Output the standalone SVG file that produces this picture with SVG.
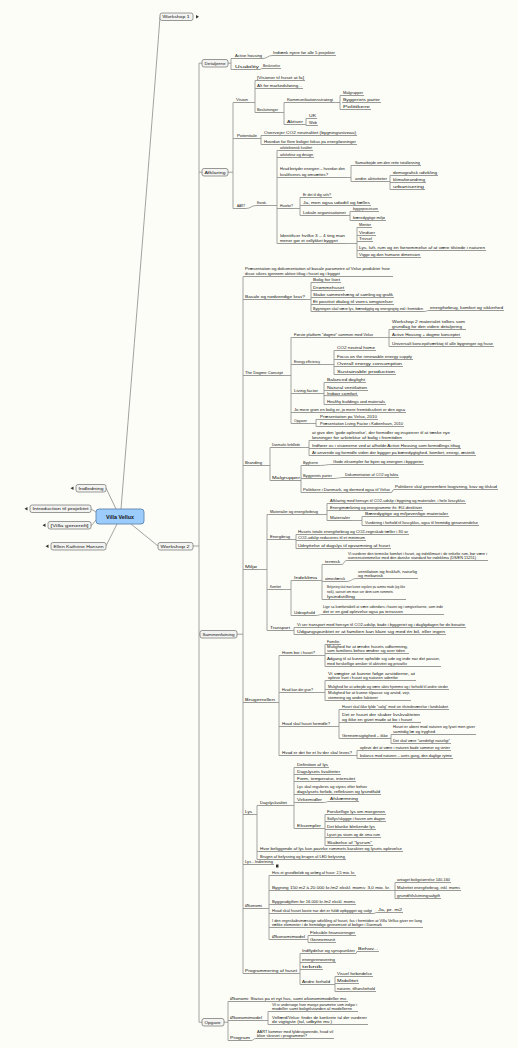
<svg xmlns="http://www.w3.org/2000/svg" width="518" height="1048" viewBox="0 0 518 1048">
<style>
.t{font-family:"Liberation Sans",Arial,sans-serif;font-size:3.9px;fill:#151515}
.bt{font-family:"Liberation Sans",Arial,sans-serif;font-size:4.3px;fill:#151515}
.u{stroke:#808080;stroke-width:0.8;fill:none}
.c{stroke:#8a8a8a;stroke-width:0.8;fill:none;stroke-linejoin:round}
.b{fill:#f3f3f1;stroke:#7e7e7e;stroke-width:0.8}
.m{fill:#333}
</style>
<rect width="518" height="1048" fill="#fdfdf7"/>
<g id="connectors" class="c">
<path d="M121,509 Q150,150 160,17"/>
<path d="M116,509 L106,488"/>
<path d="M96,512 L91,509"/>
<path d="M96,520 L91,526"/>
<path d="M117,524 L106,546"/>
<path d="M131,524 L158,546"/>
<path d="M193,546 H199 M199,63.2 V1022.2 M199,63.2 H202 M199,172.2 H202 M199,634.2 H200 M199,1022.2 H202"/>
<path d="M228,63.2 H231 M231,58.5 V69.5 M231,58.5 H234 M231,69.5 H234"/>
<path d="M263,58.5 C267,58.5 268,55.5 272,55.5"/>
<path d="M260,69.5 L262,68.5"/>
<path d="M228,172.2 H233 M233,102.5 V208.5 M233,102.5 H235 M233,138.5 H236 M233,208.5 H236"/>
<path d="M249,102.5 H255 M255,80.5 V112.5 M255,80.5 H256 M255,88.5 H256 M255,112.5 H256"/>
<path d="M279,112.5 H284 M284,102.5 V124.5 M284,102.5 H286 M284,124.5 H286"/>
<path d="M334,102.5 H340 M340,95.5 V109.5 M340,95.5 H342 M340,109.5 H342"/>
<path d="M304,124.5 H306 M306,118.5 V125.5 M306,118.5 H308 M306,125.5 H308"/>
<path d="M258,138.5 H261 M261,135.5 V144.5 M261,135.5 H263 M261,144.5 H263"/>
<path d="M246,208.5 C251,208.5 251,205.5 256,205.5"/>
<path d="M267,205.5 H277 M277,150.5 V243.5 M277,150.5 H279 M277,157.5 H279 M277,177.5 H279 M277,208.5 H279 M277,243.5 H279"/>
<path d="M346,177.5 H351 M351,165.5 V181.5 M351,165.5 H354 M351,181.5 H354"/>
<path d="M388,181.5 H390 M390,175.5 V189.5 M390,175.5 H392 M390,182.5 H392 M390,189.5 H392"/>
<path d="M294,208.5 H300 M300,197.5 V215.5 M300,197.5 H302 M300,205.5 H302 M300,215.5 H302"/>
<path d="M347,215.5 H350 M350,211.5 V220.5 M350,211.5 H352 M350,220.5 H352"/>
<path d="M346,243.5 H357 M357,227.5 V257.5 M357,227.5 H358 M357,235.5 H358 M357,241.5 H358 M357,250.5 H358 M357,257.5 H358"/>
<path d="M237,634.2 H243 M243,276.5 V973.5 M243,276.5 H244 M243,299.5 H244 M243,375.5 H244 M243,465.5 H244 M243,569.5 H244 M243,702.5 H244 M243,814.5 H244 M243,864.5 H244 M243,908.5 H244 M243,973.5 H244"/>
<path d="M306,299.5 H311 M311,282.5 V311.5 M311,282.5 H312 M311,290.5 H312 M311,297.5 H312 M311,304.5 H312 M311,311.5 H312"/>
<path d="M424,311.5 C427,311.5 426,310.5 429,310.5"/>
<path d="M284,375.5 H291 M291,337.5 V423.5 M291,337.5 H293 M291,364.5 H293 M291,393.5 H293 M291,412.5 H293 M291,423.5 H293"/>
<path d="M374,337.5 H389 M389,329.5 V346.5 M389,329.5 H391 M389,337.5 H391 M389,346.5 H391"/>
<path d="M321,364.5 H334 M334,350.5 V374.5 M334,350.5 H336 M334,359.5 H336 M334,366.5 H336 M334,374.5 H336"/>
<path d="M319,393.5 H324 M324,382.5 V404.5 M324,382.5 H326 M324,390.5 H326 M324,395.5 H326 M324,404.5 H326"/>
<path d="M308,423.5 H316 M316,419.5 V426.5 M316,419.5 H319 M316,426.5 H319"/>
<path d="M263,465.5 H270 M270,447.5 V480.5 M270,447.5 H271 M270,480.5 H271"/>
<path d="M301,447.5 H309 M309,440.5 V455.5 M309,440.5 H311 M309,448.5 H311 M309,455.5 H311"/>
<path d="M301,465.5 V492.5 M301,465.5 H302 M301,478.5 H302 M301,492.5 H302"/>
<path d="M319,465.5 C326,465.5 325,464.5 332,464.5"/>
<path d="M333,478.5 C339,478.5 338,477.5 344,477.5"/>
<path d="M391,492.5 C393,492.5 392,489.5 394,489.5"/>
<path d="M258,569.5 H267 M267,514.5 V630.5 M267,514.5 H269 M267,539.5 H269 M267,589.5 H269 M267,630.5 H269"/>
<path d="M319,514.5 H327 M327,503.5 V520.5 M327,503.5 H329 M327,510.5 H329 M327,520.5 H329"/>
<path d="M351,520.5 H362 M362,516.5 V525.5 M362,516.5 H364 M362,525.5 H364"/>
<path d="M291,539.5 H296 M296,534.5 V548.5 M296,534.5 H297 M296,540.5 H297 M296,548.5 H297"/>
<path d="M282,589.5 H291 M291,580.5 V615.5 M291,580.5 H293 M291,615.5 H293"/>
<path d="M318,580.5 H322 M322,564.5 V599.5 M322,564.5 H324 M322,581.5 H324 M322,599.5 H324"/>
<path d="M341,564.5 C345,564.5 343,560.5 347,560.5"/>
<path d="M346,581.5 C352,581.5 351,578.5 357,578.5"/>
<path d="M316,615.5 C319,615.5 319,614.5 322,614.5"/>
<path d="M291,630.5 H294 M294,627.5 V634.5 M294,627.5 H296 M294,634.5 H296"/>
<path d="M276,702.5 H279 M279,655.5 V755.5 M279,655.5 H281 M279,692.5 H281 M279,726.5 H281 M279,755.5 H281"/>
<path d="M316,655.5 H325 M325,644.5 V666.5 M325,644.5 H326 M325,653.5 H326 M325,666.5 H326"/>
<path d="M314,692.5 H325 M325,680.5 V700.5 M325,680.5 H327 M325,689.5 H327 M325,700.5 H327"/>
<path d="M331,726.5 H339 M339,709.5 V738.5 M339,709.5 H341 M339,722.5 H341 M339,738.5 H341"/>
<path d="M389,738.5 H391 M391,734.5 V743.5 M391,734.5 H392 M391,743.5 H392"/>
<path d="M353,755.5 H357 M357,750.5 V758.5 M357,750.5 H359 M357,758.5 H359"/>
<path d="M253,814.5 H257 M257,805.5 V859.5 M257,805.5 H259 M257,851.5 H259 M257,859.5 H259"/>
<path d="M288,805.5 H294 M294,767.5 V828.5 M294,767.5 H296 M294,774.5 H296 M294,781.5 H296 M294,794.5 H296 M294,802.5 H296 M294,828.5 H296"/>
<path d="M323,802.5 C327,802.5 326,801.5 329,801.5"/>
<path d="M322,828.5 H325 M325,814.5 V845.5 M325,814.5 H326 M325,821.5 H326 M325,829.5 H326 M325,837.5 H326 M325,845.5 H326"/>
<path d="M263,908.5 H269 M269,875.5 V939.5 M269,875.5 H271 M269,890.5 H271 M269,904.5 H271 M269,913.5 H271 M269,927.5 H271 M269,939.5 H271"/>
<path d="M391,890.5 H395 M395,882.5 V898.5 M395,882.5 H396 M395,890.5 H396 M395,898.5 H396"/>
<path d="M373,913.5 C375,913.5 375,912.5 377,912.5"/>
<path d="M306,939.5 H308 M308,935.5 V942.5 M308,935.5 H309 M308,942.5 H309"/>
<path d="M298,973.5 H300 M300,953.5 V984.5 M300,953.5 H301 M300,962.5 H301 M300,969.5 H301 M300,984.5 H301"/>
<path d="M356,953.5 C357,953.5 356,951.5 357,951.5"/>
<path d="M331,984.5 H335 M335,976.5 V991.5 M335,976.5 H336 M335,983.5 H336 M335,991.5 H336"/>
<path d="M224,1022.2 H228 M228,1001.5 V1040.5 M228,1001.5 H229 M228,1020.5 H229 M228,1040.5 H229"/>
<path d="M263,1020.5 H268 M268,1011.5 V1024.5 M268,1011.5 H271 M268,1024.5 H271"/>
<path d="M251,1040.5 C254,1040.5 253,1038.5 256,1038.5"/>
</g>

<g id="center"><rect x="96" y="509" width="48" height="15" rx="3" fill="#9cccfb" stroke="#5f86b0" stroke-width="0.9"/><text x="120" y="518.6" text-anchor="middle" font-family="'Liberation Sans',Arial,sans-serif" font-size="5.4" font-weight="bold" fill="#151515">Villa Vellux</text></g>
<g id="n_indledning"><rect class="b" x="76" y="484.5" width="30" height="7.5" rx="2"/><text class="bt" x="78.5" y="489.8" textLength="25" lengthAdjust="spacingAndGlyphs">Indledning</text><path class="m" d="M70.5,488.2 l3,-1.8 v3.6z"/></g>
<g id="n_intro"><rect class="b" x="30" y="505" width="61" height="7.5" rx="2"/><text class="bt" x="32.5" y="510.3" textLength="56" lengthAdjust="spacingAndGlyphs">Introduction til projektet</text><path class="m" d="M24.5,508.7 l3,-1.8 v3.6z"/></g>
<g id="n_villa"><rect class="b" x="48" y="521.5" width="43" height="7.5" rx="2"/><text class="bt" x="50.5" y="526.8" textLength="38" lengthAdjust="spacingAndGlyphs">[Villa generelt]</text><path class="m" d="M42.5,525.2 l3,-1.8 v3.6z"/></g>
<g id="n_ellen"><rect class="b" x="51" y="542.5" width="55" height="7.5" rx="2"/><text class="bt" x="53.5" y="547.8" textLength="50" lengthAdjust="spacingAndGlyphs">Ellen Kathrine Hansen</text><path class="m" d="M45.5,546.2 l3,-1.8 v3.6z"/></g>
<g id="n_ws1"><rect class="b" x="160" y="13" width="33" height="7.5" rx="2"/><text class="bt" x="162.5" y="18.3" textLength="27" lengthAdjust="spacingAndGlyphs">Workshop 1</text><path class="m" d="M199,16.7 l-3,-1.8 v3.6z"/></g>
<g id="n_ws2"><rect class="b" x="158" y="542.5" width="35" height="7.5" rx="2"/><text class="bt" x="160.5" y="547.8" textLength="29" lengthAdjust="spacingAndGlyphs">Workshop 2</text></g>

<g id="n_detaljer"><rect class="b" x="202" y="59.5" width="26" height="7.5" rx="2"/><text class="bt" x="204.5" y="64.8" textLength="21" lengthAdjust="spacingAndGlyphs">Detaljerne</text></g>
<g id="n_a1"><text class="t" x="235" y="57.4" textLength="27" lengthAdjust="spacingAndGlyphs">Active housing</text><path class="u" d="M234,58.5 H263"/></g>
<g id="n_a1a"><text class="t" x="273" y="54.4" textLength="62" lengthAdjust="spacingAndGlyphs">Indtænk nyere før alle 5 projekter</text><path class="u" d="M272,55.5 H336"/></g>
<g id="n_a2"><text class="t" x="235" y="68.4" textLength="24" lengthAdjust="spacingAndGlyphs">Usability</text><path class="u" d="M234,69.5 H260"/></g>
<g id="n_a2a"><text class="t" x="263" y="67.4" textLength="17" lengthAdjust="spacingAndGlyphs">Beskrivelse</text><path class="u" d="M262,68.5 H281"/></g>

<g id="n_afklaring"><rect class="b" x="202" y="168.5" width="26" height="7.5" rx="2"/><text class="bt" x="204.5" y="173.8" textLength="21" lengthAdjust="spacingAndGlyphs">Afklaring</text></g>
<g id="n_b1"><text class="t" x="236" y="101.4" textLength="12" lengthAdjust="spacingAndGlyphs">Vision</text><path class="u" d="M235,102.5 H249"/></g>
<g id="n_b1a"><text class="t" x="257" y="79.4" textLength="47" lengthAdjust="spacingAndGlyphs">[Visioner til huset at få]</text><path class="u" d="M256,80.5 H305"/></g>
<g id="n_b1b"><text class="t" x="257" y="87.4" textLength="45" lengthAdjust="spacingAndGlyphs">Alt for markedsføring...</text><path class="u" d="M256,88.5 H303"/></g>
<g id="n_b1c"><text class="t" x="257" y="111.4" textLength="21" lengthAdjust="spacingAndGlyphs">Beslutninger</text><path class="u" d="M256,112.5 H279"/></g>
<g id="n_b1c1"><text class="t" x="287" y="101.4" textLength="46" lengthAdjust="spacingAndGlyphs">Kommunikationsstrategi</text><path class="u" d="M286,102.5 H334"/></g>
<g id="n_b1c1a"><text class="t" x="343" y="94.4" textLength="20" lengthAdjust="spacingAndGlyphs">Målgrupper</text><path class="u" d="M342,95.5 H364"/></g>
<g id="n_b1c1b"><text class="t" x="343" y="101.4" textLength="37" lengthAdjust="spacingAndGlyphs">Byggeriets parter</text><path class="u" d="M342,102.5 H381"/></g>
<g id="n_b1c1c"><text class="t" x="343" y="108.4" textLength="27" lengthAdjust="spacingAndGlyphs">Politikere</text><path class="u" d="M342,109.5 H371"/></g>
<g id="n_b1c2"><text class="t" x="287" y="123.4" textLength="16" lengthAdjust="spacingAndGlyphs">Aktiver</text><path class="u" d="M286,124.5 H304"/></g>
<g id="n_b1c2a"><text class="t" x="309" y="117.4" textLength="7" lengthAdjust="spacingAndGlyphs">UK</text><path class="u" d="M308,118.5 H317"/></g>
<g id="n_b1c2b"><text class="t" x="309" y="124.4" textLength="8" lengthAdjust="spacingAndGlyphs">Web</text><path class="u" d="M308,125.5 H318"/></g>
<g id="n_b2"><text class="t" x="237" y="137.4" textLength="20" lengthAdjust="spacingAndGlyphs">Potentiale</text><path class="u" d="M236,138.5 H258"/></g>
<g id="n_b2a"><text class="t" x="264" y="134.4" textLength="92" lengthAdjust="spacingAndGlyphs">Overvejer CO2 neutralitet (bygningsniveau)</text><path class="u" d="M263,135.5 H357"/></g>
<g id="n_b2b"><text class="t" x="264" y="143.4" textLength="92" lengthAdjust="spacingAndGlyphs">Hvordan får flere boliger fokus på energiløsninger</text><path class="u" d="M263,144.5 H357"/></g>
<g id="n_b3"><text class="t" x="237" y="207.4" textLength="8" lengthAdjust="spacingAndGlyphs">AART</text><path class="u" d="M236,208.5 H246"/></g>
<g id="n_b3a"><text class="t" x="257" y="204.4" textLength="9" lengthAdjust="spacingAndGlyphs">Brands</text><path class="u" d="M256,205.5 H267"/></g>
<g id="n_b3a1"><text class="t" x="280" y="149.4" textLength="32" lengthAdjust="spacingAndGlyphs">arkitektonisk kvalitet</text><path class="u" d="M279,150.5 H313"/></g>
<g id="n_b3a2"><text class="t" x="280" y="156.4" textLength="33" lengthAdjust="spacingAndGlyphs">arkitektur og design</text><path class="u" d="M279,157.5 H314"/></g>
<g id="n_b3a3"><text class="t" x="280" y="170.4" textLength="65" lengthAdjust="spacingAndGlyphs">Hvad betyder energien – hvordan den</text><text class="t" x="280" y="176.2" textLength="48" lengthAdjust="spacingAndGlyphs">kvalificeres og omsættes?</text><path class="u" d="M279,177.5 H346"/></g>
<g id="n_b3a3a"><text class="t" x="355" y="164.4" textLength="65" lengthAdjust="spacingAndGlyphs">Samarbejde om den rette totalløsning</text><path class="u" d="M354,165.5 H421"/></g>
<g id="n_b3a3b"><text class="t" x="355" y="180.4" textLength="32" lengthAdjust="spacingAndGlyphs">andre aktiviteter</text><path class="u" d="M354,181.5 H388"/></g>
<g id="n_b3a3b1"><text class="t" x="393" y="174.4" textLength="44" lengthAdjust="spacingAndGlyphs">demografisk udvikling</text><path class="u" d="M392,175.5 H438"/></g>
<g id="n_b3a3b2"><text class="t" x="393" y="181.4" textLength="32" lengthAdjust="spacingAndGlyphs">klimaforandring</text><path class="u" d="M392,182.5 H426"/></g>
<g id="n_b3a3b3"><text class="t" x="393" y="188.4" textLength="31" lengthAdjust="spacingAndGlyphs">urbanisering</text><path class="u" d="M392,189.5 H425"/></g>
<g id="n_b3a4"><text class="t" x="280" y="207.4" textLength="13" lengthAdjust="spacingAndGlyphs">Hvorfor?</text><path class="u" d="M279,208.5 H294"/></g>
<g id="n_b3a4a"><text class="t" x="303" y="196.4" textLength="28" lengthAdjust="spacingAndGlyphs">Er det til dig selv?</text><path class="u" d="M302,197.5 H332"/></g>
<g id="n_b3a4b"><text class="t" x="303" y="204.4" textLength="67" lengthAdjust="spacingAndGlyphs">Ja, men også udadtil og fælles</text><path class="u" d="M302,205.5 H371"/></g>
<g id="n_b3a4c"><text class="t" x="303" y="214.4" textLength="43" lengthAdjust="spacingAndGlyphs">Lokale organisationer</text><path class="u" d="M302,215.5 H347"/></g>
<g id="n_b3a4c1"><text class="t" x="353" y="210.4" textLength="25" lengthAdjust="spacingAndGlyphs">byggeprocessen</text><path class="u" d="M352,211.5 H379"/></g>
<g id="n_b3a4c2"><text class="t" x="353" y="219.4" textLength="32" lengthAdjust="spacingAndGlyphs">bæredygtige miljø</text><path class="u" d="M352,220.5 H386"/></g>
<g id="n_b3a5"><text class="t" x="280" y="237.4" textLength="65" lengthAdjust="spacingAndGlyphs">Identificer hvilke 3 – 4 ting man</text><text class="t" x="280" y="242.2" textLength="58" lengthAdjust="spacingAndGlyphs">mener gør et vellykket byggeri</text><path class="u" d="M279,243.5 H346"/></g>
<g id="n_b3a5a"><text class="t" x="359" y="226.4" textLength="12" lengthAdjust="spacingAndGlyphs">Mentor</text><path class="u" d="M358,227.5 H372"/></g>
<g id="n_b3a5b"><text class="t" x="359" y="234.4" textLength="16" lengthAdjust="spacingAndGlyphs">Vinduer</text><path class="u" d="M358,235.5 H376"/></g>
<g id="n_b3a5c"><text class="t" x="359" y="240.4" textLength="13" lengthAdjust="spacingAndGlyphs">Trivsel</text><path class="u" d="M358,241.5 H373"/></g>
<g id="n_b3a5d"><text class="t" x="359" y="249.4" textLength="126" lengthAdjust="spacingAndGlyphs">Lys, luft, rum og en fornemmelse af at være tilstede i naturen</text><path class="u" d="M358,250.5 H486"/></g>
<g id="n_b3a5e"><text class="t" x="359" y="256.4" textLength="61" lengthAdjust="spacingAndGlyphs">Viggo og den humane dimension</text><path class="u" d="M358,257.5 H421"/></g>

<g id="n_sammen"><rect class="b" x="200" y="630.5" width="37" height="7.5" rx="2"/><text class="bt" x="202.5" y="635.8" textLength="32" lengthAdjust="spacingAndGlyphs">Sammenfatning</text></g>
<g id="n_c1"><text class="t" x="245" y="270.2" textLength="145" lengthAdjust="spacingAndGlyphs">Præsentation og dokumentation af basale parametre af Velux produkter hvor</text><text class="t" x="245" y="275" textLength="95" lengthAdjust="spacingAndGlyphs">disse sikres igennem aktive tiltag i huset og i bygget</text><path class="u" d="M244,276.5 H393"/></g>
<g id="n_c2"><text class="t" x="245" y="298.4" textLength="60" lengthAdjust="spacingAndGlyphs">Basale og nødvendige krav?</text><path class="u" d="M244,299.5 H306"/></g>
<g id="n_c2a"><text class="t" x="313" y="281.4" textLength="27" lengthAdjust="spacingAndGlyphs">Bolig for livet</text><path class="u" d="M312,282.5 H341"/></g>
<g id="n_c2b"><text class="t" x="313" y="289.4" textLength="31" lengthAdjust="spacingAndGlyphs">Drømmehuset</text><path class="u" d="M312,290.5 H345"/></g>
<g id="n_c2c"><text class="t" x="313" y="296.4" textLength="80" lengthAdjust="spacingAndGlyphs">Skabe sammenhæng af samling og grafik</text><path class="u" d="M312,297.5 H394"/></g>
<g id="n_c2d"><text class="t" x="313" y="303.4" textLength="80" lengthAdjust="spacingAndGlyphs">Et positivt dialog til vores omgivelser</text><path class="u" d="M312,304.5 H394"/></g>
<g id="n_c2e"><text class="t" x="313" y="310.4" textLength="110" lengthAdjust="spacingAndGlyphs">Bygningen skal være lys, bæredygtig og energirigtig ind i fremtiden</text><path class="u" d="M312,311.5 H424"/></g>
<g id="n_c2e1"><text class="t" x="430" y="309.4" textLength="73" lengthAdjust="spacingAndGlyphs">energiforbrug, komfort og sikkerhed</text><path class="u" d="M429,310.5 H504"/></g>
<g id="n_c3"><text class="t" x="245" y="374.4" textLength="38" lengthAdjust="spacingAndGlyphs">The Dogme Concept</text><path class="u" d="M244,375.5 H284"/></g>
<g id="n_c3a"><text class="t" x="294" y="336.4" textLength="79" lengthAdjust="spacingAndGlyphs">Første platform "dogme" sammen med Velux</text><path class="u" d="M293,337.5 H374"/></g>
<g id="n_c3a1"><text class="t" x="392" y="323.4" textLength="73" lengthAdjust="spacingAndGlyphs">Workshop 2 materialet tolkes som</text><text class="t" x="392" y="328.2" textLength="70" lengthAdjust="spacingAndGlyphs">grundlag for den videre detaljering</text><path class="u" d="M391,329.5 H466"/></g>
<g id="n_c3a2"><text class="t" x="392" y="336.4" textLength="68" lengthAdjust="spacingAndGlyphs">Active Housing + dogme konceptet</text><path class="u" d="M391,337.5 H461"/></g>
<g id="n_c3a3"><text class="t" x="392" y="345.4" textLength="101" lengthAdjust="spacingAndGlyphs">Universalt koncept/værktøj til alle bygninger og huse</text><path class="u" d="M391,346.5 H494"/></g>
<g id="n_c3b"><text class="t" x="294" y="363.4" textLength="26" lengthAdjust="spacingAndGlyphs">Energy efficiency</text><path class="u" d="M293,364.5 H321"/></g>
<g id="n_c3b1"><text class="t" x="337" y="349.4" textLength="38" lengthAdjust="spacingAndGlyphs">CO2 neutral home</text><path class="u" d="M336,350.5 H376"/></g>
<g id="n_c3b2"><text class="t" x="337" y="358.4" textLength="75" lengthAdjust="spacingAndGlyphs">Focus on the renewable energy supply</text><path class="u" d="M336,359.5 H413"/></g>
<g id="n_c3b3"><text class="t" x="337" y="365.4" textLength="65" lengthAdjust="spacingAndGlyphs">Overall energy consumption</text><path class="u" d="M336,366.5 H403"/></g>
<g id="n_c3b4"><text class="t" x="337" y="373.4" textLength="58" lengthAdjust="spacingAndGlyphs">Sustainable production</text><path class="u" d="M336,374.5 H396"/></g>
<g id="n_c3c"><text class="t" x="294" y="392.4" textLength="24" lengthAdjust="spacingAndGlyphs">Living factor</text><path class="u" d="M293,393.5 H319"/></g>
<g id="n_c3c1"><text class="t" x="327" y="381.4" textLength="38" lengthAdjust="spacingAndGlyphs">Balanced daylight</text><path class="u" d="M326,382.5 H366"/></g>
<g id="n_c3c2"><text class="t" x="327" y="389.4" textLength="40" lengthAdjust="spacingAndGlyphs">Natural ventilation</text><path class="u" d="M326,390.5 H368"/></g>
<g id="n_c3c3"><text class="t" x="327" y="394.6" textLength="30" lengthAdjust="spacingAndGlyphs">Indoor comfort</text><path class="u" d="M326,395.7 H358"/></g>
<g id="n_c3c4"><text class="t" x="327" y="403.4" textLength="58" lengthAdjust="spacingAndGlyphs">Healthy buildings and materials</text><path class="u" d="M326,404.5 H386"/></g>
<g id="n_c3d"><text class="t" x="294" y="411.4" textLength="111" lengthAdjust="spacingAndGlyphs">Jo mere grøn en bolig er, jo mere fremtidssikret er den også</text><path class="u" d="M293,412.5 H406"/></g>
<g id="n_c3e"><text class="t" x="294" y="422.4" textLength="13" lengthAdjust="spacingAndGlyphs">Opgaver</text><path class="u" d="M293,423.5 H308"/></g>
<g id="n_c3e1"><text class="t" x="320" y="418.4" textLength="57" lengthAdjust="spacingAndGlyphs">Præsentation på Velux, 2010</text><path class="u" d="M319,419.5 H378"/></g>
<g id="n_c3e2"><text class="t" x="320" y="425.4" textLength="83" lengthAdjust="spacingAndGlyphs">Præsentation Living Factor i København, 2010</text><path class="u" d="M319,426.5 H404"/></g>
<g id="n_c4"><text class="t" x="245" y="464.4" textLength="17" lengthAdjust="spacingAndGlyphs">Branding</text><path class="u" d="M244,465.5 H263"/></g>
<g id="n_c4a"><text class="t" x="272" y="446.4" textLength="28" lengthAdjust="spacingAndGlyphs">Danmarks forbillede</text><path class="u" d="M271,447.5 H301"/></g>
<g id="n_c4a1"><text class="t" x="312" y="434.4" textLength="138" lengthAdjust="spacingAndGlyphs">at give den 'gode oplevelse', der formidler og inspirerer til at tænke nye</text><text class="t" x="312" y="439.2" textLength="90" lengthAdjust="spacingAndGlyphs">løsninger for arkitektur af bolig i fremtiden</text><path class="u" d="M311,440.5 H451"/></g>
<g id="n_c4a2"><text class="t" x="312" y="447.4" textLength="148" lengthAdjust="spacingAndGlyphs">Indfører os i visionerne ved at afholde Active Housing som formidlings tiltag</text><path class="u" d="M311,448.5 H461"/></g>
<g id="n_c4a3"><text class="t" x="312" y="454.4" textLength="163" lengthAdjust="spacingAndGlyphs">At anvende og formidle viden der bygger på bæredygtighed, komfort, energi, æstetik</text><path class="u" d="M311,455.5 H476"/></g>
<g id="n_c4b"><text class="t" x="272" y="479.4" textLength="28" lengthAdjust="spacingAndGlyphs">Målgrupper</text><path class="u" d="M271,480.5 H301"/></g>
<g id="n_c4b1"><text class="t" x="303" y="464.4" textLength="15" lengthAdjust="spacingAndGlyphs">Bygherre</text><path class="u" d="M302,465.5 H319"/></g>
<g id="n_c4b1a"><text class="t" x="333" y="463.4" textLength="90" lengthAdjust="spacingAndGlyphs">Gode eksempler for byen og energien i byggerier</text><path class="u" d="M332,464.5 H424"/></g>
<g id="n_c4b2"><text class="t" x="303" y="477.4" textLength="29" lengthAdjust="spacingAndGlyphs">Byggeriets parter</text><path class="u" d="M302,478.5 H333"/></g>
<g id="n_c4b2a"><text class="t" x="345" y="476.4" textLength="53" lengthAdjust="spacingAndGlyphs">Dokumentation af CO2 og fakta</text><path class="u" d="M344,477.5 H399"/></g>
<g id="n_c4b3"><text class="t" x="303" y="491.4" textLength="87" lengthAdjust="spacingAndGlyphs">Politikere i Danmark, og dermed også til Velux</text><path class="u" d="M302,492.5 H391"/></g>
<g id="n_c4b3a"><text class="t" x="395" y="488.4" textLength="102" lengthAdjust="spacingAndGlyphs">Politikere skal gennemføre lovgivning, krav og tilskud</text><path class="u" d="M394,489.5 H498"/></g>
<g id="n_c5"><text class="t" x="245" y="568.4" textLength="12" lengthAdjust="spacingAndGlyphs">Miljø</text><path class="u" d="M244,569.5 H258"/></g>
<g id="n_c5a"><text class="t" x="270" y="513.4" textLength="48" lengthAdjust="spacingAndGlyphs">Materialer og energiforbrug</text><path class="u" d="M269,514.5 H319"/></g>
<g id="n_c5a1"><text class="t" x="330" y="502.4" textLength="135" lengthAdjust="spacingAndGlyphs">Afklaring med hensyn til CO2-udslip i bygning og materialer, i hele livscyklus</text><path class="u" d="M329,503.5 H466"/></g>
<g id="n_c5a2"><text class="t" x="330" y="509.4" textLength="92" lengthAdjust="spacingAndGlyphs">Energimærkning og energiramme iht. EU-direktivet</text><path class="u" d="M329,510.5 H423"/></g>
<g id="n_c5a3"><text class="t" x="330" y="519.4" textLength="20" lengthAdjust="spacingAndGlyphs">Materialer</text><path class="u" d="M329,520.5 H351"/></g>
<g id="n_c5a3a"><text class="t" x="365" y="515.4" textLength="83" lengthAdjust="spacingAndGlyphs">Bæredygtige og miljøvenlige materialer</text><path class="u" d="M364,516.5 H449"/></g>
<g id="n_c5a3b"><text class="t" x="365" y="524.4" textLength="113" lengthAdjust="spacingAndGlyphs">Vurdering i forhold til livscyklus, også til fremtidig genanvendelse</text><path class="u" d="M364,525.5 H479"/></g>
<g id="n_c5b"><text class="t" x="270" y="538.4" textLength="20" lengthAdjust="spacingAndGlyphs">Energibrug</text><path class="u" d="M269,539.5 H291"/></g>
<g id="n_c5b1"><text class="t" x="298" y="533.4" textLength="110" lengthAdjust="spacingAndGlyphs">Husets totale energiforbrug og CO2-regnskab tæller i 30 år</text><path class="u" d="M297,534.5 H409"/></g>
<g id="n_c5b2"><text class="t" x="298" y="539.4" textLength="67" lengthAdjust="spacingAndGlyphs">CO2-udslip reduceres til et minimum</text><path class="u" d="M297,540.5 H366"/></g>
<g id="n_c5b3"><text class="t" x="298" y="547.4" textLength="92" lengthAdjust="spacingAndGlyphs">Udnyttelse af dagslys til opvarmning af huset</text><path class="u" d="M297,548.5 H391"/></g>
<g id="n_c5c"><text class="t" x="270" y="588.4" textLength="11" lengthAdjust="spacingAndGlyphs">Komfort</text><path class="u" d="M269,589.5 H282"/></g>
<g id="n_c5c1"><text class="t" x="294" y="579.4" textLength="23" lengthAdjust="spacingAndGlyphs">Indeklima</text><path class="u" d="M293,580.5 H318"/></g>
<g id="n_c5c1a"><text class="t" x="325" y="563.4" textLength="15" lengthAdjust="spacingAndGlyphs">termisk</text><path class="u" d="M324,564.5 H341"/></g>
<g id="n_c5c1a1"><text class="t" x="348" y="555.4" textLength="139" lengthAdjust="spacingAndGlyphs">Vi vurderer den termiske komfort i huset, og indeklimaet i de enkelte rum, bør være i</text><text class="t" x="348" y="559.4" textLength="128" lengthAdjust="spacingAndGlyphs">overensstemmelse med den danske standard for indeklima (DS/EN 15251)</text><path class="u" d="M347,560.5 H488"/></g>
<g id="n_c5c1b"><text class="t" x="325" y="580.4" textLength="20" lengthAdjust="spacingAndGlyphs">atmosfærisk</text><path class="u" d="M324,581.5 H346"/></g>
<g id="n_c5c1b1"><text class="t" x="358" y="573.4" textLength="59" lengthAdjust="spacingAndGlyphs">ventilation og friskluft, naturlig</text><text class="t" x="358" y="577.4" textLength="25" lengthAdjust="spacingAndGlyphs">og mekanisk</text><path class="u" d="M357,578.5 H418"/></g>
<g id="n_c5c1c"><text class="t" x="327" y="588.4" textLength="78" lengthAdjust="spacingAndGlyphs">Belysning skal man kunne regulere på samme måde (og ikke</text><text class="t" x="327" y="593.4" textLength="66" lengthAdjust="spacingAndGlyphs">nok), uanset om man ser dem som rummets</text><text class="t" x="327" y="598.4" textLength="28" lengthAdjust="spacingAndGlyphs">lysindstilling</text><path class="u" d="M324,599.5 H406"/></g>
<g id="n_c5c2"><text class="t" x="294" y="614.4" textLength="21" lengthAdjust="spacingAndGlyphs">Udeophold</text><path class="u" d="M293,615.5 H316"/></g>
<g id="n_c5c2a"><text class="t" x="323" y="608.4" textLength="120" lengthAdjust="spacingAndGlyphs">Lige så komfortabelt at være udendørs i haven og i omgivelserne, som inde</text><text class="t" x="323" y="613.4" textLength="80" lengthAdjust="spacingAndGlyphs">det er en god oplevelse også på terrassen</text><path class="u" d="M322,614.5 H444"/></g>
<g id="n_c5d"><text class="t" x="270" y="629.4" textLength="20" lengthAdjust="spacingAndGlyphs">Transport</text><path class="u" d="M269,630.5 H291"/></g>
<g id="n_c5d1"><text class="t" x="297" y="626.4" textLength="168" lengthAdjust="spacingAndGlyphs">Vi ser transport med hensyn til CO2-udslip, både i byggeriet og i dagligdagen for de bosatte</text><path class="u" d="M296,627.5 H466"/></g>
<g id="n_c5d2"><text class="t" x="297" y="633.4" textLength="148" lengthAdjust="spacingAndGlyphs">Udgangspunktet er at familien kan klare sig med én bil, eller ingen</text><path class="u" d="M296,634.5 H446"/></g>
<g id="n_c6"><text class="t" x="245" y="701.4" textLength="30" lengthAdjust="spacingAndGlyphs">Brugerrollen</text><path class="u" d="M244,702.5 H276"/></g>
<g id="n_c6a"><text class="t" x="282" y="654.4" textLength="33" lengthAdjust="spacingAndGlyphs">Hvem bor i huset?</text><path class="u" d="M281,655.5 H316"/></g>
<g id="n_c6a1"><text class="t" x="327" y="643.4" textLength="13" lengthAdjust="spacingAndGlyphs">Familie.</text><path class="u" d="M326,644.5 H341"/></g>
<g id="n_c6a2"><text class="t" x="327" y="647.6" textLength="81" lengthAdjust="spacingAndGlyphs">Mulighed for at ændre husets udformning,</text><text class="t" x="327" y="652.4" textLength="78" lengthAdjust="spacingAndGlyphs">som familiens behov ændrer sig over tiden</text><path class="u" d="M326,653.5 H409"/></g>
<g id="n_c6a3"><text class="t" x="327" y="660.4" textLength="113" lengthAdjust="spacingAndGlyphs">Adgang til at kunne opholde sig ude og inde når det passer,</text><text class="t" x="327" y="665.4" textLength="80" lengthAdjust="spacingAndGlyphs">med forskellige ønsker til aktivitet og privatliv</text><path class="u" d="M326,666.5 H441"/></g>
<g id="n_c6b"><text class="t" x="282" y="691.4" textLength="31" lengthAdjust="spacingAndGlyphs">Hvad kan det give?</text><path class="u" d="M281,692.5 H314"/></g>
<g id="n_c6b1"><text class="t" x="328" y="675.4" textLength="87" lengthAdjust="spacingAndGlyphs">Vi vægter at kunne følge årstiderne, at</text><text class="t" x="328" y="679.4" textLength="70" lengthAdjust="spacingAndGlyphs">opleve livet i huset og naturen udenfor</text><path class="u" d="M327,680.5 H416"/></g>
<g id="n_c6b2"><text class="t" x="328" y="688.4" textLength="120" lengthAdjust="spacingAndGlyphs">Mulighed for at arbejde og være aktiv hjemme og i forhold til andre steder</text><path class="u" d="M327,689.5 H449"/></g>
<g id="n_c6b3"><text class="t" x="328" y="694.4" textLength="82" lengthAdjust="spacingAndGlyphs">Mulighed for at kunne tilpasse sig årstid, vejr,</text><text class="t" x="328" y="699.4" textLength="50" lengthAdjust="spacingAndGlyphs">stemning og andre faktorer</text><path class="u" d="M327,700.5 H411"/></g>
<g id="n_c6c"><text class="t" x="282" y="725.4" textLength="48" lengthAdjust="spacingAndGlyphs">Hvad skal huset formidle?</text><path class="u" d="M281,726.5 H331"/></g>
<g id="n_c6c1"><text class="t" x="342" y="708.4" textLength="106" lengthAdjust="spacingAndGlyphs">Huset skal ikke fylde "salig" med sin tilstedeværelse i landskabet</text><path class="u" d="M341,709.5 H449"/></g>
<g id="n_c6c2"><text class="t" x="342" y="716.4" textLength="78" lengthAdjust="spacingAndGlyphs">Det er huset der skaber livskvaliteten</text><text class="t" x="342" y="721.4" textLength="70" lengthAdjust="spacingAndGlyphs">og ikke en givet måde at bo i huset</text><path class="u" d="M341,722.5 H421"/></g>
<g id="n_c6c3"><text class="t" x="342" y="737.4" textLength="46" lengthAdjust="spacingAndGlyphs">Gennemsigtighed – ikke</text><path class="u" d="M341,738.5 H389"/></g>
<g id="n_c6c3a"><text class="t" x="393" y="728.4" textLength="82" lengthAdjust="spacingAndGlyphs">Huset er åbent mod naturen og lyset men giver</text><text class="t" x="393" y="733.4" textLength="42" lengthAdjust="spacingAndGlyphs">samtidig læ og tryghed</text><path class="u" d="M392,734.5 H476"/></g>
<g id="n_c6c3b"><text class="t" x="393" y="742.4" textLength="57" lengthAdjust="spacingAndGlyphs">Det skal være "uendeligt naturligt"</text><path class="u" d="M392,743.5 H451"/></g>
<g id="n_c6d"><text class="t" x="282" y="754.4" textLength="70" lengthAdjust="spacingAndGlyphs">Hvad er det for et liv der skal leves?</text><path class="u" d="M281,755.5 H353"/></g>
<g id="n_c6d1"><text class="t" x="360" y="749.4" textLength="90" lengthAdjust="spacingAndGlyphs">opleve det at være i naturen både sommer og vinter</text><path class="u" d="M359,750.5 H451"/></g>
<g id="n_c6d2"><text class="t" x="360" y="757.4" textLength="92" lengthAdjust="spacingAndGlyphs">balance med naturen – årets gang, den daglige rytme</text><path class="u" d="M359,758.5 H453"/></g>
<g id="n_c7"><text class="t" x="245" y="813.4" textLength="7" lengthAdjust="spacingAndGlyphs">Lys</text><path class="u" d="M244,814.5 H253"/></g>
<g id="n_c7a"><text class="t" x="260" y="804.4" textLength="27" lengthAdjust="spacingAndGlyphs">Dagslyskvalitet</text><path class="u" d="M259,805.5 H288"/></g>
<g id="n_c7a1"><text class="t" x="297" y="766.4" textLength="31" lengthAdjust="spacingAndGlyphs">Definition af lys</text><path class="u" d="M296,767.5 H329"/></g>
<g id="n_c7a2"><text class="t" x="297" y="773.4" textLength="43" lengthAdjust="spacingAndGlyphs">Dagslysets kvaliteter</text><path class="u" d="M296,774.5 H341"/></g>
<g id="n_c7a3"><text class="t" x="297" y="780.4" textLength="58" lengthAdjust="spacingAndGlyphs">Form, temperatur, intensitet</text><path class="u" d="M296,781.5 H356"/></g>
<g id="n_c7a4"><text class="t" x="297" y="788.4" textLength="70" lengthAdjust="spacingAndGlyphs">Lys skal reguleres og styres efter behov</text><text class="t" x="297" y="793.4" textLength="83" lengthAdjust="spacingAndGlyphs">dagslysets forløb, refleksion og lysindfald</text><path class="u" d="M296,794.5 H381"/></g>
<g id="n_c7a5"><text class="t" x="297" y="801.4" textLength="25" lengthAdjust="spacingAndGlyphs">Virkemidler</text><path class="u" d="M296,802.5 H323"/></g>
<g id="n_c7a5a"><text class="t" x="330" y="800.4" textLength="28" lengthAdjust="spacingAndGlyphs">Afskærmning</text><path class="u" d="M329,801.5 H359"/></g>
<g id="n_c7a6"><text class="t" x="297" y="827.4" textLength="24" lengthAdjust="spacingAndGlyphs">Eksempler</text><path class="u" d="M296,828.5 H322"/></g>
<g id="n_c7a6a"><text class="t" x="327" y="813.4" textLength="58" lengthAdjust="spacingAndGlyphs">Forskellige lys om morgenen</text><path class="u" d="M326,814.5 H386"/></g>
<g id="n_c7a6b"><text class="t" x="327" y="820.4" textLength="58" lengthAdjust="spacingAndGlyphs">Sollys/skygge i haven om dagen</text><path class="u" d="M326,821.5 H386"/></g>
<g id="n_c7a6c"><text class="t" x="327" y="828.4" textLength="48" lengthAdjust="spacingAndGlyphs">Det blanke blinkende lys</text><path class="u" d="M326,829.5 H376"/></g>
<g id="n_c7a6d"><text class="t" x="327" y="836.4" textLength="53" lengthAdjust="spacingAndGlyphs">Lyset på stuen og de små rum</text><path class="u" d="M326,837.5 H381"/></g>
<g id="n_c7a6e"><text class="t" x="327" y="844.4" textLength="45" lengthAdjust="spacingAndGlyphs">Skabelse af "lysrum"</text><path class="u" d="M326,845.5 H373"/></g>
<g id="n_c7b"><text class="t" x="260" y="850.4" textLength="142" lengthAdjust="spacingAndGlyphs">Hvor beliggende af lys kan påvirke rummets karakter og lysets oplevelse</text><path class="u" d="M259,851.5 H403"/></g>
<g id="n_c7c"><text class="t" x="260" y="858.4" textLength="85" lengthAdjust="spacingAndGlyphs">Brugen af belysning og brugen af LED belysning</text><path class="u" d="M259,859.5 H346"/></g>
<g id="n_c8"><text class="t" x="245" y="863.4" textLength="28" lengthAdjust="spacingAndGlyphs">Lys - Indretning</text><path class="u" d="M244,864.5 H274"/><path class="m" d="M276,864.5 h2.5 v3 h-2.5z"/></g>
<g id="n_c9"><text class="t" x="245" y="907.4" textLength="17" lengthAdjust="spacingAndGlyphs">Økonomi</text><path class="u" d="M244,908.5 H263"/></g>
<g id="n_c9a"><text class="t" x="272" y="874.4" textLength="83" lengthAdjust="spacingAndGlyphs">Hvis et grundbeløb og anlæg af huse: 2,5 mio. kr.</text><path class="u" d="M271,875.5 H356"/></g>
<g id="n_c9b"><text class="t" x="272" y="889.4" textLength="118" lengthAdjust="spacingAndGlyphs">Bygning 150 m2 à 20.000 kr./m2 ekskl. moms: 3,0 mio. kr.</text><path class="u" d="M271,890.5 H391"/></g>
<g id="n_c9b1"><text class="t" x="397" y="881.4" textLength="53" lengthAdjust="spacingAndGlyphs">antaget boligstørrelse 140-160</text><path class="u" d="M396,882.5 H451"/></g>
<g id="n_c9b2"><text class="t" x="397" y="889.4" textLength="63" lengthAdjust="spacingAndGlyphs">Målrettet energiforbrug, inkl. moms</text><path class="u" d="M396,890.5 H461"/></g>
<g id="n_c9b3"><text class="t" x="397" y="897.4" textLength="43" lengthAdjust="spacingAndGlyphs">grund/tilslutningsafgift</text><path class="u" d="M396,898.5 H441"/></g>
<g id="n_c9c"><text class="t" x="272" y="903.4" textLength="83" lengthAdjust="spacingAndGlyphs">Byggeudgiften for 16.000 kr./m2 ekskl. moms</text><path class="u" d="M271,904.5 H356"/></g>
<g id="n_c9d"><text class="t" x="272" y="912.4" textLength="100" lengthAdjust="spacingAndGlyphs">Hvad skal huset koste når det er fuldt opbygget og solgt</text><path class="u" d="M271,913.5 H373"/></g>
<g id="n_c9d1"><text class="t" x="378" y="911.4" textLength="24" lengthAdjust="spacingAndGlyphs">Ja, pr. m2</text><path class="u" d="M377,912.5 H403"/></g>
<g id="n_c9e"><text class="t" x="272" y="922.4" textLength="150" lengthAdjust="spacingAndGlyphs">I den regnskabsmæssige udvikling af huset, fås i fremtiden at Villa Vellux giver en lang</text><text class="t" x="272" y="926.4" textLength="110" lengthAdjust="spacingAndGlyphs">række elementer i de fremtidige gennemsnit af boliger i Danmark</text><path class="u" d="M271,927.5 H423"/></g>
<g id="n_c9f"><text class="t" x="272" y="938.4" textLength="33" lengthAdjust="spacingAndGlyphs">Økonomimodel</text><path class="u" d="M271,939.5 H306"/></g>
<g id="n_c9f1"><text class="t" x="310" y="934.4" textLength="45" lengthAdjust="spacingAndGlyphs">Fleksible finansieringer</text><path class="u" d="M309,935.5 H356"/></g>
<g id="n_c9f2"><text class="t" x="310" y="941.4" textLength="25" lengthAdjust="spacingAndGlyphs">Gennemsnit</text><path class="u" d="M309,942.5 H336"/></g>
<g id="n_c10"><text class="t" x="245" y="972.4" textLength="52" lengthAdjust="spacingAndGlyphs">Programmering af huset</text><path class="u" d="M244,973.5 H298"/></g>
<g id="n_c10a"><text class="t" x="302" y="952.4" textLength="53" lengthAdjust="spacingAndGlyphs">Indflydelse og synspunkter</text><path class="u" d="M301,953.5 H356"/></g>
<g id="n_c10a1"><text class="t" x="358" y="950.4" textLength="20" lengthAdjust="spacingAndGlyphs">Behov...</text><path class="u" d="M357,951.5 H379"/></g>
<g id="n_c10b"><text class="t" x="302" y="961.4" textLength="33" lengthAdjust="spacingAndGlyphs">energirenovering</text><path class="u" d="M301,962.5 H336"/></g>
<g id="n_c10c"><text class="t" x="302" y="968.4" textLength="20" lengthAdjust="spacingAndGlyphs">teknik</text><path class="u" d="M301,969.5 H323"/></g>
<g id="n_c10d"><text class="t" x="302" y="983.4" textLength="28" lengthAdjust="spacingAndGlyphs">Andre forhold</text><path class="u" d="M301,984.5 H331"/></g>
<g id="n_c10d1"><text class="t" x="337" y="975.4" textLength="35" lengthAdjust="spacingAndGlyphs">Visuel forbindelse</text><path class="u" d="M336,976.5 H373"/></g>
<g id="n_c10d2"><text class="t" x="337" y="982.4" textLength="21" lengthAdjust="spacingAndGlyphs">Mobilitet</text><path class="u" d="M336,983.5 H359"/></g>
<g id="n_c10d3"><text class="t" x="337" y="990.4" textLength="38" lengthAdjust="spacingAndGlyphs">naturen, tilhørsforhold</text><path class="u" d="M336,991.5 H376"/></g>

<g id="n_opgave"><rect class="b" x="202" y="1018.5" width="22" height="7.5" rx="2"/><text class="bt" x="204.5" y="1023.8" textLength="16" lengthAdjust="spacingAndGlyphs">Opgave</text></g>
<g id="n_d1"><text class="t" x="230" y="1000.4" textLength="117" lengthAdjust="spacingAndGlyphs">Økonomi: Status på et nyt hus, samt økonomimodeller mv.</text><path class="u" d="M229,1001.5 H348"/></g>
<g id="n_d2"><text class="t" x="230" y="1019.4" textLength="32" lengthAdjust="spacingAndGlyphs">Økonomimodel</text><path class="u" d="M229,1020.5 H263"/></g>
<g id="n_d2a"><text class="t" x="272" y="1006.4" textLength="85" lengthAdjust="spacingAndGlyphs">Vil vi undersøge hvor mange parametre som indgår i</text><text class="t" x="272" y="1010.4" textLength="80" lengthAdjust="spacingAndGlyphs">modeller samt boligtilstanden af modellerne</text><path class="u" d="M271,1011.5 H358"/></g>
<g id="n_d2b"><text class="t" x="272" y="1019.4" textLength="95" lengthAdjust="spacingAndGlyphs">Velfærd/Velux: finder de konkrete tal der vurderer</text><text class="t" x="272" y="1023.4" textLength="60" lengthAdjust="spacingAndGlyphs">de vigtigste (tal, udbytte mv.)</text><path class="u" d="M271,1024.5 H368"/></g>
<g id="n_d3"><text class="t" x="230" y="1039.4" textLength="20" lengthAdjust="spacingAndGlyphs">Program</text><path class="u" d="M229,1040.5 H251"/></g>
<g id="n_d3a"><text class="t" x="257" y="1033.4" textLength="76" lengthAdjust="spacingAndGlyphs">AART kommer med fyldestgørende, hvad vil</text><text class="t" x="257" y="1037.4" textLength="50" lengthAdjust="spacingAndGlyphs">blive skrevet i programmet?</text><path class="u" d="M256,1038.5 H334"/></g>
</svg>
